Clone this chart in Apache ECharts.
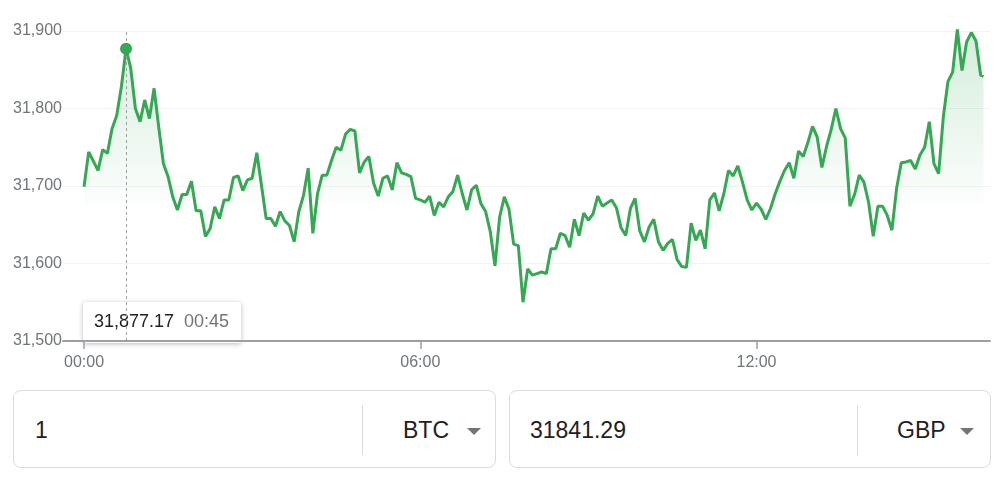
<!DOCTYPE html>
<html>
<head>
<meta charset="utf-8">
<script src="https://cdn.jsdelivr.net/npm/echarts@6/dist/echarts.min.js"></script>
<style>
  html, body { margin: 0; padding: 0; background: #fff; }
  #wrap { position: relative; width: 1003px; height: 484px; overflow: hidden; font-family: Arial, "Liberation Sans", sans-serif; }
  #chart { position: absolute; left: 0; top: 0; width: 1003px; height: 380px; }
  .box { position: absolute; top: 390px; height: 78px; border: 1px solid #dadce0; border-radius: 8px; box-sizing: border-box; background: #fff; }
  .val { position: absolute; top: 0; height: 78px; line-height: 78px; font-size: 23px; color: #202124; }
  .div { position: absolute; top: 14px; width: 1px; height: 50px; background: #dadce0; }
  .cur { position: absolute; top: 0; height: 78px; line-height: 78px; font-size: 23px; color: #202124; }
  .tri { position: absolute; top: 37px; width: 0; height: 0; border-left: 7px solid transparent; border-right: 7px solid transparent; border-top: 7px solid #757575; }
</style>
</head>
<body>
<div id="wrap">
  <div id="chart"></div>
  <div class="box" style="left:13px; width:483px;">
    <span class="val" style="left:21px;">1</span>
    <div class="div" style="left:348px;"></div>
    <span class="cur" style="left:389px;">BTC</span>
    <div class="tri" style="left:453px;"></div>
  </div>
  <div class="box" style="left:509px; width:482px;">
    <span class="val" style="left:20px;">31841.29</span>
    <div class="div" style="left:347px;"></div>
    <span class="cur" style="left:387px;">GBP</span>
    <div class="tri" style="left:450px;"></div>
  </div>
</div>
<script>
// Prices sampled every 5 minutes starting at 00:00
const stepMinutes = 5;
const prices = [
  31699, 31744, 31732, 31720, 31747, 31742, 31774, 31791, 31828, 31877.17,
  31852, 31800, 31783, 31811, 31787, 31826, 31776, 31729, 31712, 31686,
  31669, 31689, 31689, 31706, 31668, 31668, 31635, 31645, 31673, 31658,
  31682, 31682, 31711, 31713, 31694, 31708, 31710, 31743, 31701, 31658,
  31658, 31648, 31667, 31655, 31649, 31628, 31667, 31688, 31723, 31639,
  31690, 31714, 31714, 31733, 31750, 31746, 31767, 31773, 31771, 31717,
  31731, 31738, 31704, 31687, 31710, 31713, 31695, 31730, 31717, 31715,
  31712, 31684, 31682, 31679, 31687, 31662, 31679, 31673, 31686, 31693,
  31714, 31690, 31669, 31695, 31701, 31677, 31667, 31641, 31597, 31660,
  31686, 31670, 31625, 31623, 31550, 31593, 31585, 31587, 31589, 31587,
  31619, 31619, 31639, 31636, 31621, 31657, 31636, 31665, 31656, 31664,
  31687, 31674, 31678, 31682, 31672, 31646, 31636, 31671, 31684, 31642,
  31628, 31647, 31657, 31628, 31617, 31626, 31631, 31605, 31596, 31595,
  31652, 31630, 31643, 31619, 31682, 31691, 31668, 31690, 31720, 31713,
  31726, 31705, 31682, 31669, 31678, 31670, 31657, 31671, 31690, 31706,
  31720, 31730, 31710, 31745, 31738, 31756, 31777, 31763, 31724, 31751,
  31773, 31800, 31774, 31762, 31674, 31689, 31714, 31705, 31679, 31635,
  31674, 31674, 31662, 31643, 31697, 31730, 31731, 31733, 31722, 31740,
  31750, 31783, 31729, 31716, 31789, 31835, 31847, 31902, 31849, 31886,
  31898, 31887, 31843
];
const lastTime = 963;      // minutes after 00:00
const lastPrice = 31841.29;
const yTicks = [31500, 31600, 31700, 31800, 31900];
const xTickMinutes = [0, 360, 720];
const highlightIndex = 9;  // 00:45

const points = prices.map((v, i) => [i * stepMinutes, v]);
points.push([lastTime, lastPrice]);

function fmtTime(m) {
  const h = Math.floor(m / 60), mm = Math.round(m % 60);
  return String(h).padStart(2, '0') + ':' + String(mm).padStart(2, '0');
}
function fmtNum(v, d) {
  return v.toLocaleString('en-US', { minimumFractionDigits: d, maximumFractionDigits: d });
}

const green = '#34a853';
const font = 'Arial, "Liberation Sans", sans-serif';
const chart = echarts.init(document.getElementById('chart'), null, { renderer: 'canvas' });
const hiX = highlightIndex * stepMinutes;
const hiY = prices[highlightIndex];

chart.setOption({
  animation: false,
  grid: { left: 63, right: 13, top: 31, bottom: 39, containLabel: false },
  xAxis: {
    type: 'value',
    min: -22.5,
    max: 970,
    splitLine: { show: false },
    axisLine: { show: true, lineStyle: { color: '#9aa0a6', width: 2 } },
    axisTick: { show: true, customValues: xTickMinutes, length: 8, lineStyle: { color: '#9aa0a6', width: 1.5 } },
    axisLabel: {
      customValues: xTickMinutes, formatter: v => fmtTime(v), margin: 14,
      color: '#70757a', fontSize: 16, fontFamily: font
    }
  },
  yAxis: {
    type: 'value',
    min: yTicks[0],
    max: yTicks[yTicks.length - 1],
    interval: 100,
    axisLine: { show: false },
    axisTick: { show: false },
    splitLine: { lineStyle: { color: '#f1f3f4', width: 1 } },
    axisLabel: {
      formatter: v => fmtNum(v, 0), margin: 1,
      color: '#70757a', fontSize: 16, fontFamily: font
    }
  },
  series: [{
    type: 'line',
    data: points,
    showSymbol: false,
    clip: false,
    lineStyle: { color: green, width: 3 },
    itemStyle: { color: green },
    areaStyle: {
      origin: 'start',
      color: {
        type: 'linear', x: 0, y: 31, x2: 0, y2: 215, global: true,
        colorStops: [
          { offset: 0, color: 'rgba(52,168,83,0.3)' },
          { offset: 1, color: 'rgba(52,168,83,0)' }
        ]
      }
    },
    markLine: {
      silent: true,
      symbol: 'none',
      label: { show: false },
      lineStyle: { color: '#9aa0a6', type: [3, 3], width: 1 },
      data: [{ xAxis: hiX }]
    },
    markPoint: {
      silent: true,
      symbol: 'circle',
      symbolSize: 12,
      itemStyle: { color: green },
      label: { show: false },
      data: [{ coord: [hiX, hiY] }]
    }
  }]
});

const p = chart.convertToPixel({ gridIndex: 0 }, [hiX, hiY]);
const base = chart.convertToPixel({ gridIndex: 0 }, [0, yTicks[0]]);
const boxW = 158, boxH = 41;
const bx = p[0] - 43, by = base[1] + 2 - boxH;
chart.setOption({
  graphic: [{
    type: 'group', z: 100,
    children: [
      { type: 'rect', shape: { x: bx, y: by, width: boxW, height: boxH, r: 2 },
        style: { fill: '#fff', shadowBlur: 5, shadowOffsetY: 1, shadowColor: 'rgba(0,0,0,0.28)' } },
      { type: 'text', x: bx + 11, y: by + boxH / 2,
        style: { text: fmtNum(hiY, 2), fill: '#202124', fontSize: 18, fontFamily: font, verticalAlign: 'middle' } },
      { type: 'text', x: bx + 101, y: by + boxH / 2,
        style: { text: fmtTime(hiX), fill: '#70757a', fontSize: 18, fontFamily: font, verticalAlign: 'middle' } }
    ]
  }]
});
</script>
</body>
</html>
